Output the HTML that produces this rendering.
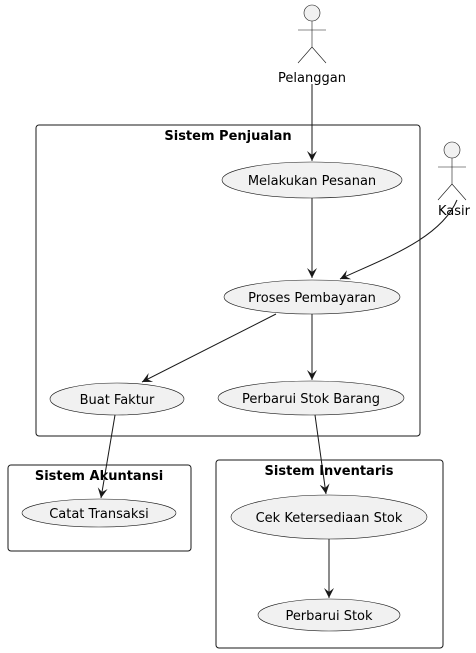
<!DOCTYPE html>
<html><head><meta charset="utf-8"><style>
html,body{margin:0;padding:0;background:#fff;}
svg{display:block;font-family:"DejaVu Sans","Liberation Sans",sans-serif;}
</style></head><body>
<svg width="476" height="653" viewBox="0 0 476 653" xmlns="http://www.w3.org/2000/svg">
<defs>
<marker id="a" markerWidth="12" markerHeight="12" refX="10" refY="6" orient="auto" markerUnits="userSpaceOnUse">
<path d="M0,1 L10,6 L0,11 L4,6 Z" fill="#181818"/>
</marker>
</defs>
<g fill="none" stroke="#181818" stroke-width="1">
<rect x="36" y="125" width="384" height="311" rx="3"/>
<rect x="8" y="465" width="183" height="86" rx="3"/>
<rect x="216" y="460" width="227" height="188" rx="3"/>
</g>
<g font-weight="bold" font-size="13" text-anchor="middle" fill="#000">
<text x="228" y="140">Sistem Penjualan</text>
<text x="99" y="480">Sistem Akuntansi</text>
<text x="329" y="475">Sistem Inventaris</text>
</g>
<g fill="#f1f1f1" stroke="#181818" stroke-width="0.6">
<ellipse cx="312" cy="180" rx="90" ry="18"/>
<ellipse cx="312" cy="297" rx="88" ry="17"/>
<ellipse cx="117" cy="399" rx="67" ry="16"/>
<ellipse cx="311" cy="398" rx="93" ry="17"/>
<ellipse cx="99" cy="513" rx="77" ry="14"/>
<ellipse cx="329" cy="517" rx="98" ry="22"/>
<ellipse cx="329" cy="615" rx="71" ry="16"/>
</g>
<g font-size="13" text-anchor="middle" fill="#000">
<text x="312" y="185">Melakukan Pesanan</text>
<text x="312" y="302">Proses Pembayaran</text>
<text x="117" y="404">Buat Faktur</text>
<text x="311" y="403">Perbarui Stok Barang</text>
<text x="99" y="518">Catat Transaksi</text>
<text x="329" y="522">Cek Ketersediaan Stok</text>
<text x="329" y="620">Perbarui Stok</text>
</g>
<g fill="#f1f1f1" stroke="#181818" stroke-width="0.6">
<circle cx="312" cy="13" r="8"/>
<path d="M312,21 V47 M298,30 H326 M298,63 L312,47 L326,63" fill="none"/>
<circle cx="452" cy="150" r="8"/>
<path d="M452,158 V184 M438,167 H466 M438,200 L452,184 L466,200" fill="none"/>
</g>
<g font-size="13" text-anchor="middle" fill="#000">
<text x="312" y="82">Pelanggan</text>
<text x="454" y="215">Kasir</text>
</g>
<g fill="none" stroke="#181818" stroke-width="1" marker-end="url(#a)">
<path d="M312,84 V161"/>
<path d="M457,200 C440,240 380,260 340,279"/>
<path d="M312,198 V278"/>
<path d="M276,314 L142,382"/>
<path d="M312,314 V380"/>
<path d="M115,415 L101,498"/>
<path d="M315,415 L326,494"/>
<path d="M329,539 V598"/>
</g>
</svg>
</body></html>
